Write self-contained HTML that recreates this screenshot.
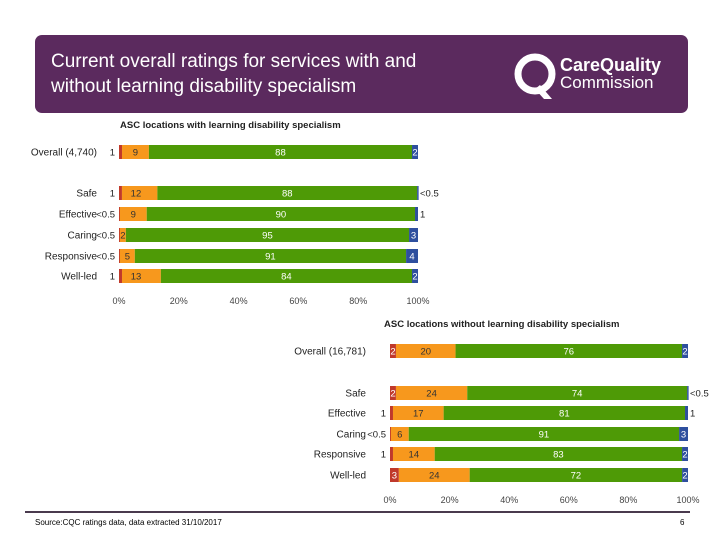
<!DOCTYPE html>
<html><head><meta charset="utf-8"><style>
body{margin:0;width:720px;height:540px;background:#fff;position:relative;overflow:hidden;font-family:"Liberation Sans",sans-serif}
#hdr{position:absolute;left:35px;top:35px;width:653px;height:78px;background:#5b2a5e;border-radius:7px}
#ttl{position:absolute;left:16px;top:14px;color:#fff;font-size:19px;line-height:25px}
svg{position:absolute;left:0;top:0}
</style></head><body>
<div id="hdr">
<div id="ttl">Current overall ratings for services with and<br>without learning disability specialism</div>
<svg width="180" height="78" style="left:475px">
<circle cx="25" cy="39" r="17" fill="none" stroke="#fff" stroke-width="7"/>
<path d="M30 50 L42 64 L34 64 L25 54Z" fill="#fff"/>
<text x="50" y="36" fill="#fff" font-size="18" font-weight="bold" font-family="Liberation Sans">CareQuality</text>
<text x="50" y="53" fill="#fff" font-size="17" font-family="Liberation Sans">Commission</text>
</svg>
</div>
<svg id="c" width="720" height="540"></svg>
<div style="position:absolute;left:25px;top:511px;width:665px;height:2px;background:#4a3a4e"></div>
<div style="position:absolute;left:35px;top:518px;font-size:8px;color:#000">Source:CQC ratings data, data extracted 31/10/2017</div>
<div style="position:absolute;left:680px;top:518px;font-size:8px">6</div>
<script>
const categories1=["Overall (4,740)","Safe","Effective","Caring","Responsive","Well-led"];
const inadequate1=[1,1,0.3,0.3,0.3,1];
const requiresImp1=[9,12,9,2,5,13];
const good1=[88,88,90,95,91,84];
const outstanding1=[2,0.3,1,3,4,2];
const labels1=[["1","9","88","2"],["1","12","88","<0.5"],["<0.5","9","90","1"],["<0.5","2","95","3"],["<0.5","5","91","4"],["1","13","84","2"]];
const categories2=["Overall (16,781)","Safe","Effective","Caring","Responsive","Well-led"];
const inadequate2=[2,2,1,0.3,1,3];
const requiresImp2=[20,24,17,6,14,24];
const good2=[76,74,81,91,83,72];
const outstanding2=[2,0.3,1,3,2,2];
const labels2=[["2","20","76","2"],["2","24","74","<0.5"],["1","17","81","1"],["<0.5","6","91","3"],["1","14","83","2"],["3","24","72","2"]];
const ticks=["0%","20%","40%","60%","80%","100%"];
const colors=["#c0392b","#f7981d","#4e9a06","#2e4f9e"];
const NS="http://www.w3.org/2000/svg",svg=document.getElementById('c');
function mk(t,a,p){const e=document.createElementNS(NS,t);for(const k in a)e.setAttribute(k,a[k]);(p||svg).appendChild(e);return e;}
function draw(cfg){
 const x=v=>cfg.x0+v/100*(cfg.x1-cfg.x0);
 const g=mk('g',{});
 
 
 const t=mk('text',{x:cfg.titleX,y:cfg.titleY,'text-anchor':'start','font-size':9.5,'font-weight':'bold',fill:'#222'},g);t.textContent=cfg.title;
 
 
 cfg.cats.forEach((c,i)=>{
  const y=cfg.ys[i],h=14;
  const vals=[cfg.inad[i],cfg.ri[i],cfg.good[i],cfg.out[i]];
  const tot=vals.reduce((a,b)=>a+b,0);
  const lab=mk('text',{x:cfg.labX,y:y+h/2+3.5,'text-anchor':'end','font-size':10,fill:'#222'},g);lab.textContent=c;
  
  
  let acc=0;
  vals.forEach((v,j)=>{
   const vv=v/tot*100;
   const r=mk('rect',{x:x(acc),y:y,width:Math.max(x(acc+vv)-x(acc),1.5),height:h,fill:colors[j]},g);
   
   
   const s=cfg.labels[i][j];const w=x(acc+vv)-x(acc);
   let tx,anchor='middle',col=j==1?'#333':'#fff';
   if(w<4.5){ if(j==0){tx=x(0)-4;anchor='end';col='#222';} else if(j==3){tx=x(100)+2;anchor='start';col='#222';} else {tx=x(acc)+w/2+3;col='#333';} }
   else tx=x(acc)+w/2;
   if(j==1&&w>=9&&w<40)tx=x(acc)+Math.min(w/2,14);
   const tt=mk('text',{x:tx,y:y+h/2+3.5,'text-anchor':anchor,'font-size':9.5,fill:col},g);tt.textContent=s;
   
   
   acc+=vv;
  });
 });
 ticks.forEach((tk,i)=>{const e=mk('text',{x:x(i*20),y:cfg.tickY,'text-anchor':'middle','font-size':9,fill:'#444'},g);e.textContent=tk;
  
  });
}
draw({name:'chart-with-ld',title:'ASC locations with learning disability specialism',titleX:120,titleY:128,x0:119,x1:418,labX:97,ys:[145,186,207,228,249,269],tickY:304,cats:categories1,inad:inadequate1,ri:requiresImp1,good:good1,out:outstanding1,labels:labels1});
draw({name:'chart-without-ld',title:'ASC locations without learning disability specialism',titleX:384,titleY:327,x0:390,x1:688,labX:366,ys:[344,386,406,427,447,468],tickY:503,cats:categories2,inad:inadequate2,ri:requiresImp2,good:good2,out:outstanding2,labels:labels2});
</script>
</body></html>
